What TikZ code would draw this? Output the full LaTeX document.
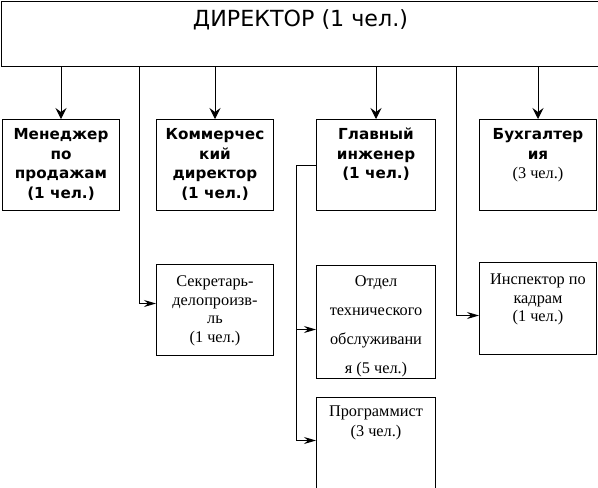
\documentclass[tikz,border=0pt]{standalone}
\usepackage{fontspec}
\setmainfont{DejaVu Sans}
\newfontfamily\serif{Liberation Serif}
\usetikzlibrary{arrows.meta,positioning,calc}

\tikzset{
  box/.style={draw, line width=1pt, inner sep=0pt, anchor=north west},
  link/.style={line width=1pt},
  arr/.style={link, -{Stealth[length=11pt,width=11pt,inset=4pt]}},
  sidearr/.style={link, -{Stealth[length=12pt,width=7pt,inset=4pt]}},
}
% cell: width, height, first baseline, line skip, text
\newcommand{\cell}[5]{\parbox[c][#2][t]{#1}{\centering\baselineskip=#4\rule{0pt}{#3}#5\par}}
\newcommand{\bsize}{\fontsize{15.2}{19.5}\selectfont\bfseries}
\newcommand{\ssize}{\fontsize{16.3}{18.5}\selectfont\serif\mdseries}

\begin{document}
\begin{tikzpicture}[x=1pt,y=-1pt]
  \clip (0,0) rectangle (598,488);

  % top
  \node[box] (dir) at (1,1)
    {\cell{604pt}{65pt}{25pt}{24pt}{\fontsize{22.2}{24}\selectfont\hspace*{-6pt}ДИРЕКТОР (1 чел.)}};

  % first row
  \node[box] (men) at (2,119)
    {\cell{117pt}{91pt}{20pt}{19.5pt}{\bsize Менеджер\\по\\продажам\\(1 чел.)}};
  \node[box] (kom) at (156,119)
    {\cell{117pt}{91pt}{20pt}{19.5pt}{\bsize Коммерчес\\кий\\директор\\(1 чел.)}};
  \node[box] (glav) at (316,119)
    {\cell{119pt}{91pt}{20pt}{19.5pt}{\bsize Главный\\инженер\\(1 чел.)}};
  \node[box] (buh) at (479,119)
    {\cell{117pt}{91pt}{20pt}{19.5pt}{\bsize Бухгалтер\\ия\\{\ssize (3 чел.)}}};

  % second row
  \node[box] (sec) at (156,264)
    {\cell{117pt}{91pt}{22pt}{18.5pt}{\ssize Секретарь-\\делопроизв-\\ль\\(1 чел.)}};
  \node[box] (otd) at (316,265)
    {\cell{119pt}{113pt}{21pt}{29pt}{\ssize\baselineskip=29pt Отдел\\технического\\обслуживани\\я (5 чел.)}};
  \node[box] (insp) at (479,262)
    {\cell{117pt}{92pt}{22pt}{18.5pt}{\ssize Инспектор по\\кадрам\\(1 чел.)}};
  \node[box] (prog) at (316,397)
    {\cell{119pt}{100pt}{19pt}{20pt}{\ssize\baselineskip=20pt Программист\\(3 чел.)}};

  \coordinate (secin) at ([yshift=6.5pt]sec.west);
  \coordinate (inspin) at ([yshift=-7pt]insp.west);
  \coordinate (otdin) at ([yshift=-7.5pt]otd.west);
  \coordinate (progin) at ([yshift=7pt]prog.west);
  \coordinate (bus) at ([xshift=-20pt]glav.west);

  % director to the first row
  \draw[arr] (dir.south -| men.north) -- (men.north);
  \draw[arr] (dir.south -| kom.north) -- (kom.north);
  \draw[arr] (dir.south -| glav.north) -- (glav.north);
  \draw[arr] (dir.south -| buh.north) -- (buh.north);

  % side lines
  \draw[sidearr] ([xshift=-17pt]secin |- dir.south) |- (secin);
  \draw[sidearr] ([xshift=-23pt]inspin |- dir.south) |- (inspin);

  % chief engineer
  \draw[link] (glav.west) -- (bus) -- (bus |- progin);
  \draw[sidearr] (bus |- otdin) -- (otdin);
  \draw[sidearr] (bus |- progin) -- (progin);
\end{tikzpicture}
\end{document}
